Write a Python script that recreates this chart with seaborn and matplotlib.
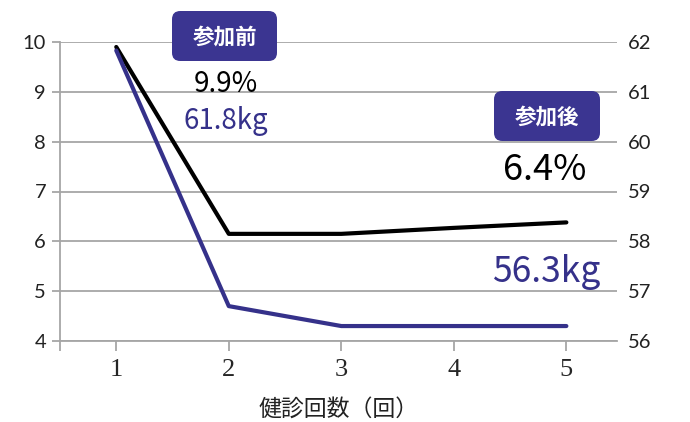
import matplotlib
matplotlib.use("Agg")
import matplotlib.pyplot as plt
from matplotlib.patches import FancyBboxPatch
import seaborn as sns
import pandas as pd

visits = [1, 2, 3, 4, 5]
body_fat = [9.9, 6.15, 6.15, 6.27, 6.38]
weight = [61.83, 56.7, 56.3, 56.3, 56.3]
left_ticks = [4, 5, 6, 7, 8, 9, 10]
right_ticks = [56, 57, 58, 59, 60, 61, 62]
xlabel = "健診回数（回）"

sns.set_theme(style="white")
plt.rcParams['font.family'] = ['Noto Sans CJK JP', 'DejaVu Sans']

df = pd.DataFrame({"visit": visits, "fat": body_fat, "weight": weight})

BLUE = "#35318a"
BOXC = "#3b3591"
GRID = "#a6a6a6"
W, H = 690, 422

fig = plt.figure(figsize=(6.9, 4.22), dpi=100)
ax = fig.add_axes([60 / W, 1 - 341 / H, 557 / W, 299 / H])
ax2 = ax.twinx()

sns.lineplot(data=df, x="visit", y="fat", ax=ax, color="black", lw=3.0, zorder=5)
sns.lineplot(data=df, x="visit", y="weight", ax=ax2, color=BLUE, lw=3.0, zorder=4)

ax.set_xlim(0.5, 5.45)
ax.set_ylim(4, 10)
ax2.set_ylim(56, 62)
ax.set_yticks(left_ticks)
ax2.set_yticks(right_ticks)
ax.set_xticks(visits)
ax.set_xticks([0.5], minor=True)

ax.grid(axis="y", color=GRID, lw=1.3)
ax.set_axisbelow(True)
for s in ["top", "right"]:
    ax.spines[s].set_visible(False)
for s in ["top", "right", "left", "bottom"]:
    ax2.spines[s].set_visible(False)
ax.spines["left"].set_color(GRID)
ax.spines["bottom"].set_color(GRID)
ax.spines["left"].set_linewidth(1.3)
ax.spines["bottom"].set_linewidth(1.3)

ax.tick_params(axis="y", left=True, length=6, color=GRID, width=1.3, pad=4, labelcolor="#222222")
ax.tick_params(axis="x", which="both", bottom=True, length=7, color=GRID, width=1.3, pad=6)
ax2.tick_params(axis="y", right=False, length=0, pad=8, labelcolor="#222222")
for lab in ax.get_yticklabels() + ax2.get_yticklabels():
    lab.set_fontfamily(["Lato", "DejaVu Sans"])
    lab.set_fontsize(14.5)
for lab in ax.get_xticklabels():
    lab.set_fontfamily(["Liberation Serif", "DejaVu Serif"])
    lab.set_fontsize(19)
ax.set_xlabel(xlabel, fontsize=16.5, labelpad=12, color="#222222")
ax.set_ylabel("")
ax2.set_ylabel("")


def pbox(x0, y0, x1, y1):
    # pixel box -> figure fraction
    fig.patches.append(FancyBboxPatch(
        (x0 / W, 1 - y1 / H), (x1 - x0) / W, (y1 - y0) / H,
        boxstyle="round,pad=0,rounding_size=0.012", mutation_aspect=W / H,
        fc=BOXC, ec="none", transform=fig.transFigure, figure=fig, zorder=10))


pbox(172, 11, 277, 61)
pbox(494, 91, 600, 141)
fig.text(225 / W, 1 - 37 / H, "参加前", color="white", fontsize=15.5, fontweight="bold",
         ha="center", va="center", zorder=11)
fig.text(547 / W, 1 - 117 / H, "参加後", color="white", fontsize=15.5, fontweight="bold",
         ha="center", va="center", zorder=11)

ax2.text(1.97, 61.16, "9.9%", color="black", fontsize=20, ha="center", va="center", zorder=10)
ax2.text(1.97, 60.42, "61.8kg", color=BLUE, fontsize=20, ha="center", va="center", zorder=10)
ax2.text(4.81, 59.44, "6.4%", color="black", fontsize=26, ha="center", va="center", zorder=10)
ax2.text(4.82, 57.39, "56.3kg", color=BLUE, fontsize=25.5, ha="center", va="center", zorder=10)

fig.savefig("out.png", dpi=100)
